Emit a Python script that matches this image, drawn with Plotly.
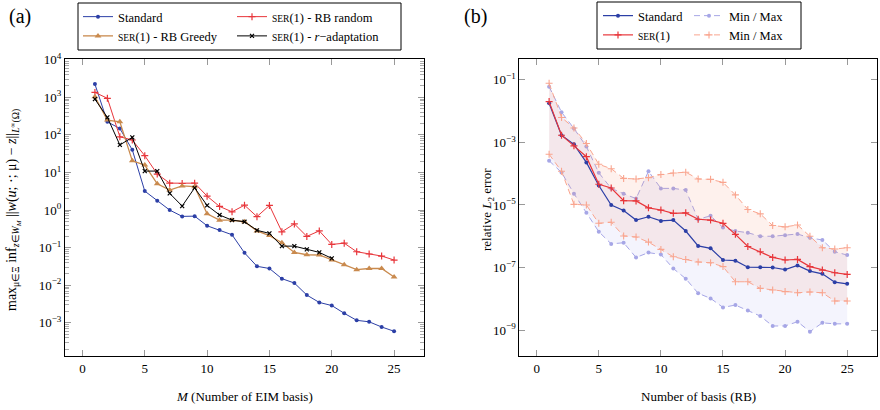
import numpy as np
import plotly.graph_objects as go

# ---- data (a): EIM error vs number of basis M ----
M_std = list(range(1, 26))
err_std = [2240, 222, 148, 40, 3.2, 1.77, 1.0, 0.68, 0.69, 0.383, 0.294, 0.221, 0.073,
           0.032, 0.028, 0.015, 0.0115, 0.0055, 0.0035, 0.0029, 0.0018, 0.00117,
           0.00107, 0.00078, 0.0006]
M_rand = list(range(1, 26))
err_rand = [1350, 940, 89, 73, 28, 9.1, 5.2, 5.1, 5.2, 2.35, 1.25, 0.9, 1.35, 0.67,
            1.33, 0.265, 0.43, 0.2, 0.28, 0.122, 0.132, 0.078, 0.068, 0.06, 0.047]
M_greedy = list(range(1, 26))
err_greedy = [1030, 247, 223, 20.4, 15.8, 5.0, 3.4, 4.4, 4.2, 0.8, 0.54, 0.54, 0.49,
              0.28, 0.21, 0.135, 0.075, 0.065, 0.064, 0.047, 0.035, 0.026, 0.028,
              0.028, 0.0166]
M_radapt = list(range(1, 21))
err_radapt = [890, 292, 54, 86, 10.9, 10.9, 2.78, 1.28, 3.9, 1.33, 0.74, 0.54, 0.49,
              0.29, 0.24, 0.11, 0.11, 0.09, 0.075, 0.052]

# ---- data (b): relative L2 error vs number of RB basis ----
N = list(range(1, 26))
std_mean = [0.0179, 1.7e-3, 8.7e-4, 2.3e-4, 4.2e-5, 1.0e-5, 6.7e-6, 3.3e-6, 4.2e-6, 3.1e-6,
            3.3e-6, 1.47e-6, 4.9e-7, 4.1e-7, 1.74e-7, 1.66e-7, 1.02e-7, 1.02e-7, 1.0e-7,
            8.6e-8, 1.17e-7, 7.7e-8, 6.3e-8, 3.4e-8, 3.0e-8]
std_max = [0.061, 9.3e-3, 2.8e-3, 7.4e-4, 1.07e-4, 3.4e-5, 2.3e-5, 1.6e-5, 1.2e-4, 3.4e-5,
           3.4e-5, 3.0e-5, 3.5e-6, 4.5e-6, 1.9e-6, 1.47e-6, 1.3e-6, 1.0e-6, 1.0e-6,
           1.07e-6, 1.18e-6, 8.9e-7, 7.6e-7, 3.2e-7, 2.5e-7]
std_min = [2.6e-4, 1.1e-4, 2.3e-5, 5.6e-6, 1.4e-6, 5.7e-7, 6.2e-7, 2.1e-7, 3.0e-7, 2.6e-7,
           9.3e-8, 4.4e-8, 1.5e-8, 1.03e-8, 5.3e-9, 6.3e-9, 4.2e-9, 2.8e-9, 1.35e-9,
           1.35e-9, 1.85e-9, 8.9e-10, 1.7e-9, 1.58e-9, 1.58e-9]
ser_mean = [0.0203, 1.7e-3, 7.8e-4, 3.5e-4, 4.6e-5, 3.5e-5, 1.37e-5, 1.35e-5, 8.1e-6, 6.9e-6,
            5.4e-6, 5.6e-6, 3.5e-6, 3.3e-6, 2.6e-6, 1.15e-6, 4.7e-7, 3.2e-7, 2.1e-7,
            1.74e-7, 1.82e-7, 1.07e-7, 8.3e-8, 6.8e-8, 6.0e-8]
ser_max = [0.078, 6.3e-3, 2.9e-3, 9.3e-4, 2.0e-4, 1.45e-4, 7.1e-5, 6.8e-5, 7.5e-5, 9.4e-5,
           1.05e-4, 1.12e-4, 6.8e-5, 6.6e-5, 5.3e-5, 2.1e-5, 7.2e-6, 5.2e-6, 2.2e-6,
           2.0e-6, 2.3e-6, 1.0e-6, 4.3e-7, 3.9e-7, 4.3e-7]
ser_min = [4.2e-4, 1.2e-4, 1.05e-5, 1.0e-5, 2.6e-6, 2.8e-6, 1.02e-6, 9.5e-7, 6.5e-7, 3.8e-7,
           2.2e-7, 1.8e-7, 1.5e-7, 1.42e-7, 1.07e-7, 3.5e-8, 3.5e-8, 2.15e-8, 1.9e-8,
           1.7e-8, 1.56e-8, 1.65e-8, 1.56e-8, 8.5e-9, 8.5e-9]

x_ticks = [0, 5, 10, 15, 20, 25]
ya_exp = [-3, -2, -1, 0, 1, 2, 3, 4]
yb_exp = [-9, -7, -5, -3, -1]

W, H = 880, 410
FONT = "Liberation Serif"
BLUE = "#2c3fa6"
RED = "#e8363b"
TAN = "#c98a4e"
LBLUE = "#a6a6e6"
LRED = "#f9a58f"


def px(x):
    return x / W


def py(y):
    return 1 - y / H


def sc(s):
    # small caps look
    return '<span style="font-size:9.5px">' + s + '</span>'


SER = sc("SER") + "(1)"

fig = go.Figure()

# (a)
fig.add_trace(go.Scatter(x=M_std, y=err_std, mode="lines+markers", name="Standard",
                         line=dict(color=BLUE, width=1), marker=dict(symbol="circle", size=4, color=BLUE),
                         xaxis="x", yaxis="y", legend="legend"))
fig.add_trace(go.Scatter(x=M_rand, y=err_rand, mode="lines+markers", name=SER + " - RB random",
                         line=dict(color=RED, width=1),
                         marker=dict(symbol="cross-thin-open", size=5, line=dict(color=RED, width=1.2)),
                         xaxis="x", yaxis="y", legend="legend2"))
fig.add_trace(go.Scatter(x=M_greedy, y=err_greedy, mode="lines+markers", name=SER + " - RB Greedy",
                         line=dict(color=TAN, width=1.3), marker=dict(symbol="triangle-up", size=6, color=TAN),
                         xaxis="x", yaxis="y", legend="legend"))
fig.add_trace(go.Scatter(x=M_radapt, y=err_radapt, mode="lines+markers",
                         name=SER + " - <i>r</i>\u2212adaptation",
                         line=dict(color="black", width=1),
                         marker=dict(symbol="x-thin-open", size=4, line=dict(color="black", width=1.2)),
                         xaxis="x", yaxis="y", legend="legend2"))

# (b) min/max bands
fig.add_trace(go.Scatter(x=N, y=std_max, mode="lines+markers", name="Min / Max",
                         line=dict(color=LBLUE, width=1, dash="6px,4px"),
                         marker=dict(symbol="circle", size=4, color=LBLUE),
                         xaxis="x2", yaxis="y2", legend="legend4"))
fig.add_trace(go.Scatter(x=N, y=std_min, mode="lines+markers", showlegend=False,
                         line=dict(color=LBLUE, width=1, dash="6px,4px"),
                         marker=dict(symbol="circle", size=4, color=LBLUE),
                         fill="tonexty", fillcolor="rgba(130,130,230,0.09)",
                         xaxis="x2", yaxis="y2", legend="legend4"))
fig.add_trace(go.Scatter(x=N, y=ser_max, mode="lines+markers", name="Min / Max",
                         line=dict(color=LRED, width=1, dash="6px,4px"),
                         marker=dict(symbol="cross-thin-open", size=5, line=dict(color=LRED, width=1.1)),
                         xaxis="x2", yaxis="y2", legend="legend4"))
fig.add_trace(go.Scatter(x=N, y=ser_min, mode="lines+markers", showlegend=False,
                         line=dict(color=LRED, width=1, dash="6px,4px"),
                         marker=dict(symbol="cross-thin-open", size=5, line=dict(color=LRED, width=1.1)),
                         fill="tonexty", fillcolor="rgba(250,140,110,0.12)",
                         xaxis="x2", yaxis="y2", legend="legend4"))
fig.add_trace(go.Scatter(x=N, y=std_mean, mode="lines+markers", name="Standard",
                         line=dict(color=BLUE, width=1.2), marker=dict(symbol="circle", size=4, color=BLUE),
                         xaxis="x2", yaxis="y2", legend="legend3"))
fig.add_trace(go.Scatter(x=N, y=ser_mean, mode="lines+markers", name=SER,
                         line=dict(color=RED, width=1.2),
                         marker=dict(symbol="cross-thin-open", size=5, line=dict(color=RED, width=1.2)),
                         xaxis="x2", yaxis="y2", legend="legend3"))

ydom = [py(356), py(59.3)]
tickfont = dict(family=FONT, size=13, color="black")


def xax(dom, anchor):
    return dict(domain=dom, anchor=anchor, range=[-1.4, 27.4], tickvals=x_ticks,
                ticks="inside", ticklen=6, tickcolor="#999", mirror="allticks",
                showline=True, linecolor="black", linewidth=1, showgrid=False, zeroline=False,
                tickfont=tickfont, automargin=False)


def yax(dom, anchor, exps, rng, minor=None):
    d = dict(domain=dom, anchor=anchor, type="log", range=rng,
             tickvals=[10.0 ** e for e in exps],
             ticktext=["10<sup>" + str(e).replace("-", "\u2212") + "</sup>" for e in exps],
             ticks="inside", ticklen=6, tickcolor="#999", mirror="allticks",
             showline=True, linecolor="black", linewidth=1, showgrid=False, zeroline=False,
             tickfont=tickfont, automargin=False)
    if minor is not None:
        d["minor"] = minor
    return d


minor_vals = [m * 10.0 ** e for e in range(-4, 4) for m in range(2, 10)]

fig.update_layout(
    width=W, height=H,
    margin=dict(l=0, r=0, t=0, b=0),
    template="none",
    paper_bgcolor="white", plot_bgcolor="white",
    font=dict(family=FONT, size=13, color="black"),
    xaxis=xax([px(65), px(424)], "y"),
    yaxis=yax(ydom, "x", ya_exp, [-3.88, 4.01],
              minor=dict(tickvals=minor_vals, ticks="inside", ticklen=4, tickcolor="#aaa")),
    xaxis2=xax([px(519.3), px(877)], "y2"),
    yaxis2=yax(ydom, "x2", yb_exp, [-9.83, -0.34]),
)

leg_common = dict(orientation="v", xanchor="left", yanchor="top", bgcolor="rgba(0,0,0,0)",
                  borderwidth=0, font=dict(family=FONT, size=12.5, color="black"),
                  tracegroupgap=0, itemwidth=30, traceorder="normal")
fig.update_layout(
    legend=dict(x=px(78), y=py(2), **leg_common),
    legend2=dict(x=px(232), y=py(2), **leg_common),
    legend3=dict(x=px(598), y=py(1), **leg_common),
    legend4=dict(x=px(689), y=py(1), **leg_common),
)

# legend frames
fig.add_shape(type="rect", xref="paper", yref="paper", x0=px(78), x1=px(401), y0=py(50), y1=py(3),
              line=dict(color="black", width=1))
fig.add_shape(type="rect", xref="paper", yref="paper", x0=px(597), x1=px(801), y0=py(49), y1=py(2),
              line=dict(color="black", width=1))

# panel labels and axis titles
ann = [
    dict(text="(a)", x=px(20), y=py(16), font=dict(size=20)),
    dict(text="(b)", x=px(475), y=py(16), font=dict(size=20)),
    dict(text="<i>M</i> (Number of EIM basis)", x=px(244.5), y=py(396)),
    dict(text="Number of basis (RB)", x=px(698), y=py(396)),
    dict(text="max<sub>\u03bc\u2208\u039e</sub> inf<sub><i>z</i>\u2208<i>W<sub>M</sub></i></sub> "
              "||<i>w</i>(<i>u</i>; \u00b7; \u03bc) \u2212 <i>z</i>||<sub><i>L</i><sup>\u221e</sup>(\u03a9)</sub>",
         x=px(13), y=py(210), textangle=-90, font=dict(size=14)),
    dict(text="relative <i>L</i><sub>2</sub> error", x=px(487), y=py(210), textangle=-90),
]
for a in ann:
    fig.add_annotation(xref="paper", yref="paper", showarrow=False,
                       xanchor="center", yanchor="middle",
                       font=a.pop("font", dict(size=13)) | dict(family=FONT, color="black"), **a)

# page body has a default 8px margin; remove it so the figure sits at the window origin
fig.write_html("out.html", config={"displayModeBar": False},
               post_script="document.body.style.margin='0';")
